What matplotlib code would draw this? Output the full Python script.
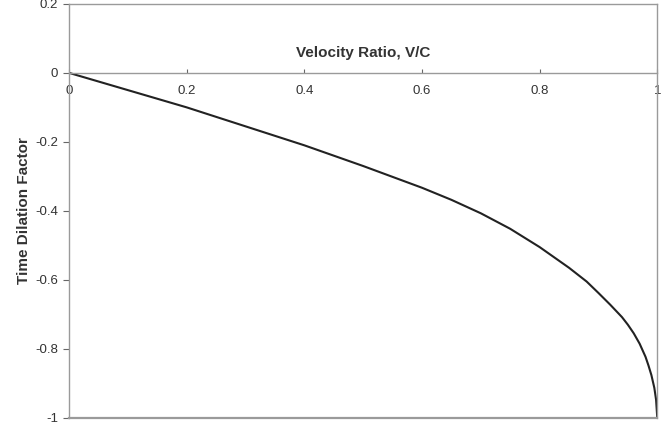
import matplotlib
matplotlib.use("Agg")
import matplotlib.pyplot as plt
import numpy as np

plt.rcParams['font.family'] = ['Liberation Sans', 'DejaVu Sans']

# Data
velocity_ratio = [0.0, 0.1, 0.2, 0.3, 0.4, 0.5, 0.6, 0.65, 0.7, 0.75, 0.8,
                  0.85, 0.88, 0.9, 0.92, 0.94, 0.95, 0.96, 0.97, 0.98,
                  0.985, 0.99, 0.995, 0.998, 1.0]
dilation = [0.0, -0.05, -0.10, -0.155, -0.21, -0.27, -0.333, -0.368, -0.407,
            -0.452, -0.505, -0.565, -0.605, -0.638, -0.672, -0.708, -0.73,
            -0.755, -0.785, -0.823, -0.848, -0.876, -0.913, -0.948, -1.0]
x_ticks = [0, 0.2, 0.4, 0.6, 0.8, 1]
x_tick_labels = ['0', '0.2', '0.4', '0.6', '0.8', '1']
y_ticks = [0.2, 0, -0.2, -0.4, -0.6, -0.8, -1]
y_tick_labels = ['0.2', '0', '-0.2', '-0.4', '-0.6', '-0.8', '-1']

fig = plt.figure(figsize=(6.7, 4.29), dpi=100)
ax = fig.add_axes([0.103, 0.026, 0.878, 0.965])

frame = '#9a9a9a'
ax.plot(velocity_ratio, dilation, color='#222222', lw=1.5,
        solid_joinstyle='round', solid_capstyle='round')

ax.set_xlim(0, 1)
ax.set_ylim(-1, 0.2)

for s in ['top', 'right', 'left', 'bottom']:
    ax.spines[s].set_color(frame)
    ax.spines[s].set_linewidth(1.0)
ax.spines['bottom'].set_position(('data', 0))
ax.axhline(-1, color=frame, lw=1.6, clip_on=False, zorder=3)

ax.set_xticks(x_ticks)
ax.set_xticklabels(x_tick_labels)
ax.set_yticks(y_ticks)
ax.set_yticklabels(y_tick_labels)
ax.tick_params(axis='x', direction='in', length=3, color='#666666', pad=9,
               labelsize=9.5, labelcolor='#333333')
ax.tick_params(axis='y', direction='out', length=4, color='#666666', pad=4,
               labelsize=9.5, labelcolor='#333333')

ax.text(0.5, 0.058, 'Velocity Ratio, V/C', ha='center', va='center',
        fontsize=11, fontweight='bold', color='#333333')
ax.set_ylabel('Time Dilation Factor', fontsize=11, fontweight='bold',
              color='#333333', labelpad=3)

fig.savefig('out.png', dpi=100)
